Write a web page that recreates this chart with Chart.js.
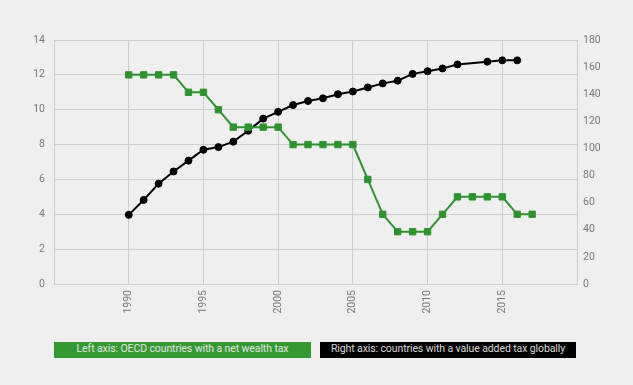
<!DOCTYPE html>
<html>
<head>
<meta charset="utf-8">
<script src="https://cdn.jsdelivr.net/npm/chart.js@4"></script>
<style>
  html, body { margin: 0; padding: 0; background: #efefef; }
  #wrap { position: relative; width: 633px; height: 385px; }
  #wrap canvas { position: absolute; left: 0; top: 0; }
  .key {
    position: absolute; top: 342px; height: 16px; line-height: 16px;
    font: 10.5px Roboto, sans-serif; letter-spacing: -0.1px;
    text-align: center; white-space: nowrap;
  }
  #key-left { left: 54px; width: 257px; background: #339933; color: #e4e4e4; }
  #key-right { left: 320px; width: 256px; background: #000; color: #d8d8d8; }
</style>
</head>
<body>
<div id="wrap">
  <canvas id="chart" width="633" height="385"></canvas>
  <div class="key" id="key-left">Left axis: OECD countries with a net wealth tax</div>
  <div class="key" id="key-right">Right axis: countries with a value added tax globally</div>
</div>
<script>
const years = [1990, 1991, 1992, 1993, 1994, 1995, 1996, 1997, 1998, 1999,
  2000, 2001, 2002, 2003, 2004, 2005, 2006, 2007, 2008, 2009,
  2010, 2011, 2012, 2013, 2014, 2015, 2016, 2017];
// OECD countries with a net wealth tax (left axis)
const wealthTax = [12, 12, 12, 12, 11, 11, 10, 9, 9, 9,
  9, 8, 8, 8, 8, 8, 6, 4, 3, 3,
  3, 4, 5, 5, 5, 5, 4, 4];
// countries with VAT globally (right axis), no point for 2013
const vatCount = [51, 62, 74, 83, 91, 99, 101, 105, 113, 122,
  127, 132, 135, 137, 140, 142, 145, 148, 150, 155,
  157, 159, 162, null, 164, 165, 165, null];

const leftTicks = [0, 2, 4, 6, 8, 10, 12, 14];
const rightTicks = [0, 20, 40, 60, 80, 100, 120, 140, 160, 180];
const yearTicks = [1990, 1995, 2000, 2005, 2010, 2015];

const fontFamily = 'Roboto, sans-serif';
const gridColor = '#cdcdcd';
const tickColor = '#777';

const toPoints = vals => years.map((yr, i) => ({x: yr, y: vals[i]}));

new Chart(document.getElementById('chart'), {
  type: 'line',
  data: {
    datasets: [
      {
        label: 'Left axis: OECD countries with a net wealth tax',
        data: toPoints(wealthTax),
        yAxisID: 'yLeft',
        borderColor: '#2f922f',
        backgroundColor: '#2f922f',
        borderWidth: 2,
        pointStyle: 'rect',
        pointRadius: 4.5,
        pointBorderWidth: 1,
        tension: 0
      },
      {
        label: 'Right axis: countries with a value added tax globally',
        data: toPoints(vatCount),
        yAxisID: 'yRight',
        borderColor: '#000',
        backgroundColor: '#000',
        borderWidth: 2,
        pointStyle: 'circle',
        pointRadius: 3.5,
        pointBorderWidth: 1,
        spanGaps: true,
        tension: 0
      }
    ]
  },
  options: {
    responsive: false,
    animation: false,
    layout: {padding: {top: 40, bottom: 71, left: 0, right: 0}},
    plugins: {legend: {display: false}, tooltip: {enabled: false}},
    scales: {
      x: {
        type: 'linear',
        min: 1985,
        max: 2020,
        afterBuildTicks: axis => {
          axis.ticks = [1985, ...yearTicks, 2020].map(v => ({value: v}));
        },
        ticks: {
          minRotation: 90, maxRotation: 90, padding: 6,
          color: tickColor, font: {family: fontFamily, size: 10.5},
          callback: v => yearTicks.includes(v) ? String(v) : ''
        },
        grid: {color: gridColor, drawTicks: false},
        border: {color: gridColor},
        afterFit: axis => { axis.height = 30; }
      },
      yLeft: {
        position: 'left',
        min: 0,
        max: 14,
        afterBuildTicks: axis => { axis.ticks = leftTicks.map(v => ({value: v})); },
        ticks: {padding: 9, color: tickColor, font: {family: fontFamily, size: 10.5}},
        grid: {color: gridColor, drawTicks: false},
        border: {color: gridColor},
        afterFit: axis => { axis.width = 54; }
      },
      yRight: {
        position: 'right',
        min: 0,
        max: 180,
        afterBuildTicks: axis => { axis.ticks = rightTicks.map(v => ({value: v})); },
        ticks: {padding: 6, color: tickColor, font: {family: fontFamily, size: 10.5}},
        grid: {drawOnChartArea: false, drawTicks: false},
        border: {color: gridColor},
        afterFit: axis => { axis.width = 56; }
      }
    }
  }
});
</script>
</body>
</html>
